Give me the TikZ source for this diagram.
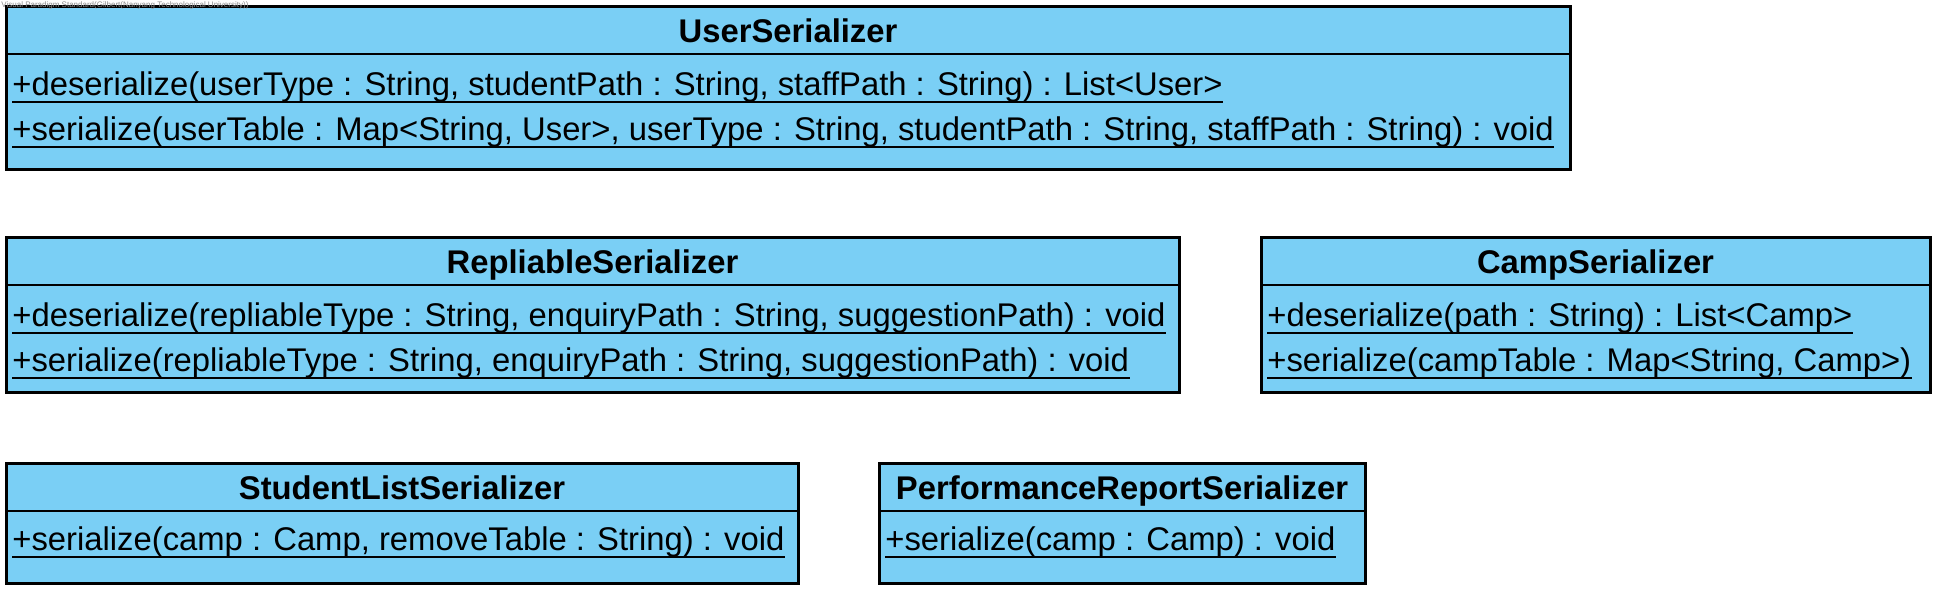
\documentclass[tikz,border=0pt]{standalone}
\usepackage{fontspec}
\setmainfont{Liberation Sans}
\definecolor{classblue}{RGB}{122,207,245}

\tikzstyle{classbox} = [draw,fill=classblue,line width=1.5pt,inner sep=0pt]
\tikzstyle{divider} = [draw,line width=1.3pt]
\tikzstyle{classtitle} = [anchor=base,inner sep=0pt,font=\fontsize{16.4}{20}\selectfont\bfseries]
\tikzstyle{methodtext} = [anchor=base west,inner sep=0pt,font=\fontsize{16.4}{20}\selectfont]
\tikzstyle{uline} = [draw,line width=1.3pt]
\tikzstyle{watermark} = [anchor=north west,inner sep=0.5pt,text=black!45,font=\fontsize{4}{5}\selectfont]

\begin{document}
\begin{tikzpicture}[x=0.5pt,y=-0.5pt]
      \useasboundingbox (0,0) rectangle (1941,594);
      %% class boxes
      \foreach \nodename/\xa/\ya/\xb/\yb/\ydiv/\title in {
        user/6/6/1570/169/54/UserSerializer,
        repl/6/237/1179/392/285/RepliableSerializer,
        camp/1261/237/1930/392/285/CampSerializer,
        stud/6/463/798/583/511/StudentListSerializer,
        perf/879/463/1365/583/511/PerformanceReportSerializer}
      {
        \node (\nodename) at ({(\xa+\xb)/2},{(\ya+\yb)/2}) [classbox,
          minimum width={(\xb-\xa)*0.5pt}, minimum height={(\yb-\ya)*0.5pt}] {};
        \draw[divider] (\xa,\ydiv) -- (\xb,\ydiv);
        \node (\nodename-title) at ({(\xa+\xb)/2},{(\ya+\ydiv)/2+12}) [classtitle] {\title};
      }
      %% operations, underlined (static)
      \foreach \nodename/\x/\y/\text in {
        user-m1/12/95/{+deserialize(userType : String, studentPath : String, staffPath : String) : List<User>},
        user-m2/12/140/{+serialize(userTable : Map<String, User>, userType : String, studentPath : String, staffPath : String) : void},
        repl-m1/12/326/{+deserialize(repliableType : String, enquiryPath : String, suggestionPath) : void},
        repl-m2/12/371/{+serialize(repliableType : String, enquiryPath : String, suggestionPath) : void},
        camp-m1/1267/326/{+deserialize(path : String) : List<Camp>},
        camp-m2/1267/371/{+serialize(campTable : Map<String, Camp>)},
        stud-m1/12/550/{+serialize(camp : Camp, removeTable : String) : void},
        perf-m1/885/550/{+serialize(camp : Camp) : void}}
      {
        \node (\nodename) at (\x,\y) [methodtext] {\text};
        \draw[uline] ([yshift=-3.5pt]\nodename.base west) -- ([yshift=-3.5pt]\nodename.base east);
      }
      \node (wm) at (0,0) [watermark] {Visual Paradigm Standard(Gilbert(Nanyang Technological University))};
\end{tikzpicture}
\end{document}
